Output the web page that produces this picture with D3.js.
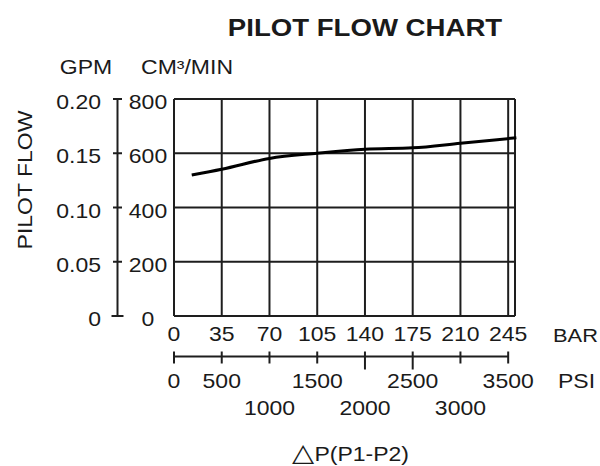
<!DOCTYPE html>
<html>
<head>
<meta charset="utf-8">
<script src="https://cdn.jsdelivr.net/npm/d3@7"></script>
<style>
  body { margin: 0; background: #fff; }
  text { font-family: "Liberation Sans", Arial, sans-serif; fill: #1a1a1a; }
</style>
</head>
<body>
<div id="chart"></div>
<script>
// values
const barTicks = [0, 35, 70, 105, 140, 175, 210, 245];
const psiTicks = [0, 500, 1000, 1500, 2000, 2500, 3000, 3500];
const psiLabelsTop = [0, 500, 1500, 2500, 3500];
const psiLabelsBottom = [1000, 2000, 3000];
const flowTicks = [0, 200, 400, 600, 800];
const gpmTicks = [0, 0.05, 0.10, 0.15, 0.20];
const curveBar = [13, 35, 70, 105, 140, 175, 210, 251];
const curveFlow = [520, 541, 581, 600, 615, 620, 637, 657];

const width = 600, height = 466;
const sx = 1.15; // the lettering in the chart is a bit wide
const ink = "#1e1e1e";

const svg = d3.select("#chart").append("svg")
    .attr("width", width)
    .attr("height", height);

// scales
const x = d3.scaleLinear().domain([0, 250]).range([174, 515]);
const y = d3.scaleLinear().domain([0, 800]).range([316, 99]);
const gpm = d3.scaleLinear().domain([0, 0.2]).range([316, 99]);
const psi = d3.scaleLinear().domain([0, 3500]).range([x(0), x(245)]);

function label(tx, ty, str, size, anchor, extra) {
    return svg.append("text")
        .attr("transform", "translate(" + tx + "," + ty + ")" + (extra || "") + " scale(" + sx + ",1)")
        .attr("text-anchor", anchor || "middle")
        .style("font-size", size + "px")
        .text(str);
}

// title + unit headers
label(365, 36, "PILOT FLOW CHART", 24).style("font-weight", "bold");
label(86, 74, "GPM", 20);
label(187, 74, "CM\u00B3/MIN", 20);
label(32, 180, "PILOT FLOW", 20, "middle", " rotate(-90)");

// grid
const grid = svg.append("g")
    .attr("stroke", ink)
    .attr("stroke-width", 2);

grid.selectAll(".hgrid")
    .data(flowTicks)
    .enter()
  .append("line")
    .attr("x1", x(0))
    .attr("x2", x(250))
    .attr("y1", d => y(d))
    .attr("y2", d => y(d));

grid.selectAll(".vgrid")
    .data(barTicks.concat([250]))
    .enter()
  .append("line")
    .attr("x1", d => x(d))
    .attr("x2", d => x(d))
    .attr("y1", y(800))
    .attr("y2", y(0));

// flow curve
const line = d3.line()
    .x(d => x(d[0]))
    .y(d => y(d[1]))
    .curve(d3.curveMonotoneX);

svg.append("path")
    .datum(curveBar.map((b, i) => [b, curveFlow[i]]))
    .attr("d", line)
    .attr("fill", "none")
    .attr("stroke", "#000")
    .attr("stroke-width", 3);

// left double scale (GPM / CM3/MIN)
const axX = 117.5;
svg.append("line")
    .attr("x1", axX).attr("x2", axX)
    .attr("y1", y(800)).attr("y2", y(0))
    .attr("stroke", ink).attr("stroke-width", 2);

svg.selectAll(".ltick")
    .data(flowTicks)
    .enter()
  .append("line")
    .attr("x1", d => d === 0 ? axX - 6 : axX - 4.5)
    .attr("x2", d => d === 0 ? axX + 6 : axX + 4.5)
    .attr("y1", d => y(d))
    .attr("y2", d => y(d))
    .attr("stroke", ink).attr("stroke-width", 2);

gpmTicks.forEach(d => {
    label(101, gpm(d) + 10, d === 0 ? "0" : d3.format(".2f")(d), 20, "end");
});
flowTicks.forEach(d => {
    label(148, y(d) + 10, d, 20);
});

// BAR labels
barTicks.forEach(d => label(x(d), 341, d, 20));
label(553, 342, "BAR", 19, "start");

// PSI scale line
const psiY = 356.5;
svg.append("line")
    .attr("x1", psi(0)).attr("x2", psi(3500))
    .attr("y1", psiY).attr("y2", psiY)
    .attr("stroke", ink).attr("stroke-width", 2);

const longTicks = [2000, 2500];
svg.selectAll(".ptick")
    .data(psiTicks)
    .enter()
  .append("line")
    .attr("x1", d => psi(d))
    .attr("x2", d => psi(d))
    .attr("y1", psiY - 5)
    .attr("y2", d => longTicks.includes(d) ? psiY + 13 : psiY + 7)
    .attr("stroke", ink).attr("stroke-width", 2);

psiLabelsTop.forEach(d => label(psi(d), 388, d, 20));
psiLabelsBottom.forEach(d => label(psi(d), 414.5, d, 20));
label(558, 388, "PSI", 20, "start");

// x title, with a bigger delta sign
const xTitle = label(292, 461, "", 20, "start");
xTitle.append("tspan").style("font-size", "25px").text("\u25B3");
xTitle.append("tspan").text("P(P1-P2)");
</script>
</body>
</html>
